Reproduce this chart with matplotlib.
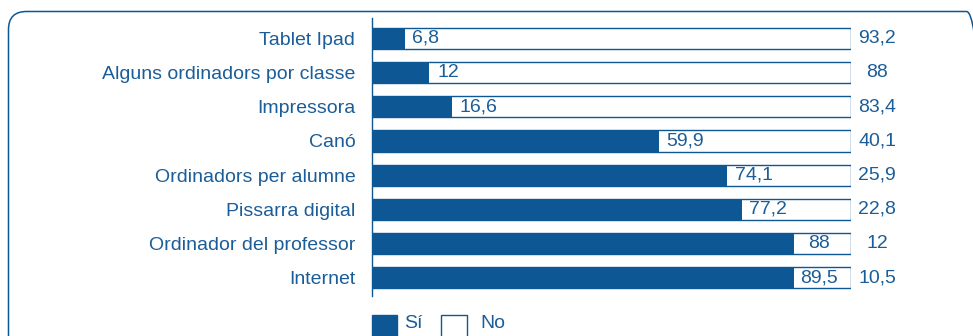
import matplotlib
matplotlib.use("Agg")
import matplotlib.pyplot as plt
from matplotlib.patches import Rectangle, FancyBboxPatch
from matplotlib.transforms import IdentityTransform

categories = [
    "Tablet Ipad",
    "Alguns ordinadors por classe",
    "Impressora",
    "Canó",
    "Ordinadors per alumne",
    "Pissarra digital",
    "Ordinador del professor",
    "Internet",
]
si_values = [6.8, 12, 16.6, 59.9, 74.1, 77.2, 88, 89.5]
no_values = [93.2, 88, 83.4, 40.1, 25.9, 22.8, 12, 10.5]
legend_labels = ["Sí", "No"]

BLUE = "#0d5794"
TEXT = "#1b5d98"
W, H = 973, 336
plt.rcParams["font.family"] = ["Liberation Sans", "DejaVu Sans"]
FS = 14.0


def fmt(v):
    return f"{v:g}".replace(".", ",")


fig = plt.figure(figsize=(W / 100, H / 100), dpi=100)
fig.patch.set_facecolor("white")

# rounded frame around the chart (partly running off the canvas)
frame = FancyBboxPatch((8.5, -60), 976, H - 11.5 + 60,
                       boxstyle="round,pad=0,rounding_size=18",
                       transform=IdentityTransform(), facecolor="none",
                       edgecolor=BLUE, linewidth=1.1)
fig.patches.append(frame)

ax = fig.add_axes([372 / W, 1 - 296 / H, 479 / W, 278 / H])
ypos = list(range(len(categories)))
totals = [s + n for s, n in zip(si_values, no_values)]
ax.barh(ypos, no_values, left=si_values, height=0.62, color="white",
        linewidth=0, zorder=1)
ax.barh(ypos, si_values, height=0.62, color=BLUE, linewidth=0, zorder=1)
# outline of each full bar drawn above the value labels
ax.barh(ypos, totals, height=0.62, facecolor="none", edgecolor=BLUE,
        linewidth=1.0, zorder=3)

ax.set_xlim(0, 100)
ax.set_ylim(7.54, -0.60)
ax.set_yticks(ypos)
ax.set_yticklabels(categories, fontsize=FS, color=TEXT)
ax.tick_params(axis="y", length=0, pad=12)
ax.set_xticks([])
for side in ("top", "right", "bottom"):
    ax.spines[side].set_visible(False)
ax.spines["left"].set_color(BLUE)
ax.spines["left"].set_linewidth(1.0)
ax.spines["left"].set_zorder(4)

for y, s, n in zip(ypos, si_values, no_values):
    if n >= 15:
        ax.text(s + 1.6, y, fmt(s), ha="left", va="center", fontsize=FS,
                color=TEXT, zorder=2)
    else:
        ax.text(93.3, y, fmt(s), ha="center", va="center", fontsize=FS,
                color=TEXT, zorder=2,
                bbox=dict(boxstyle="square,pad=0.3", facecolor="white",
                          edgecolor="none"))
    ax.text(105.5, y, fmt(n), ha="center", va="center", fontsize=FS, color=TEXT,
            clip_on=False)

# legend swatches along the bottom edge
sw_y = 1 - 340 / H
sw_h = 25 / H
fig.patches.append(Rectangle((372 / W, sw_y), 25 / W, sw_h, transform=fig.transFigure,
                             facecolor=BLUE, edgecolor=BLUE, linewidth=1.0))
fig.patches.append(Rectangle((441 / W, sw_y), 26 / W, sw_h, transform=fig.transFigure,
                             facecolor="white", edgecolor=BLUE, linewidth=1.0))
fig.text(404 / W, 1 - 324 / H, legend_labels[0], ha="left", va="center",
         fontsize=FS, color=TEXT)
fig.text(480 / W, 1 - 324 / H, legend_labels[1], ha="left", va="center",
         fontsize=FS, color=TEXT)

fig.savefig("out.png", dpi=100, facecolor="white")
